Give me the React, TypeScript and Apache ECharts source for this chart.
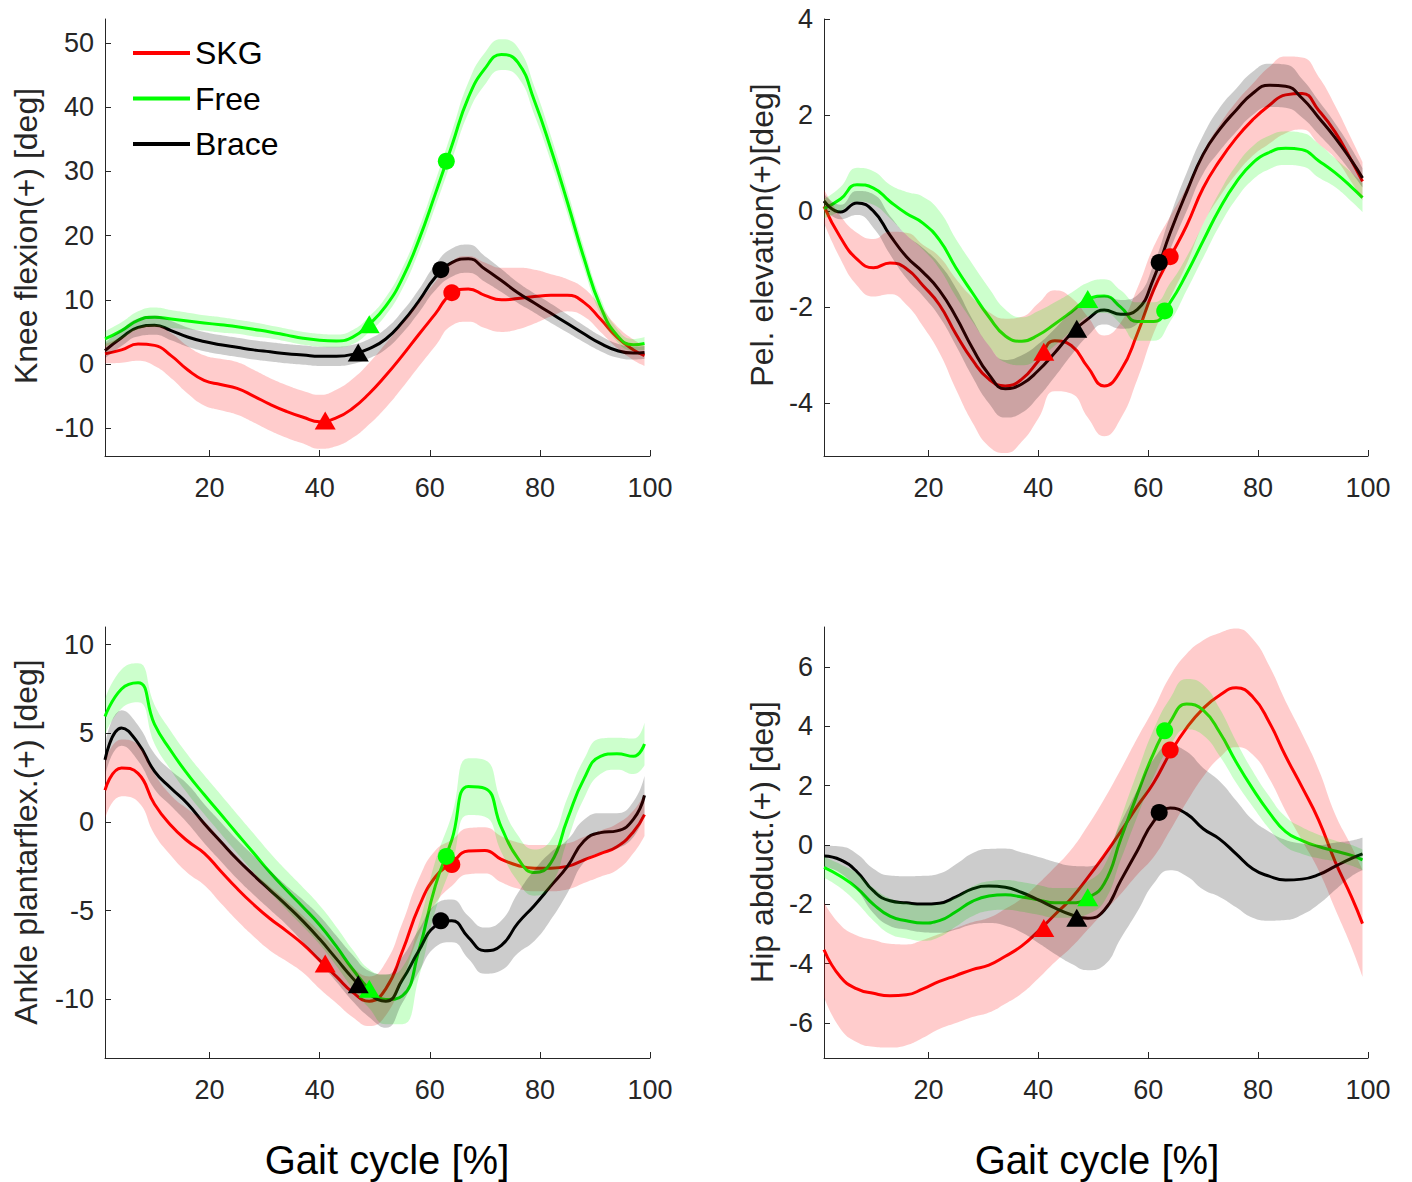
import React, { useEffect, useRef } from 'react';
import * as echarts from 'echarts';

// ---------- data (gait cycle %, common sampling) ----------
const X = [1, 4, 7, 10, 13, 16, 19, 22, 25, 28, 31, 34, 37, 40, 43, 46, 49, 52, 55, 58, 61, 64, 67, 70, 73, 76, 79, 82, 85, 88, 91, 94, 97, 99];

const GROUPS = ['SKG', 'Free', 'Brace'];

// Knee flexion
const KNEE_SKG = [1.6, 2.2, 3.1, 2.9, 1.3, -0.9, -2.55, -3.2, -3.8, -5.0, -6.3, -7.4, -8.3, -9.0, -8.4, -6.9, -4.6, -1.8, 1.3, 4.6, 7.8, 11.0, 11.7, 10.7, 10.0, 10.2, 10.5, 10.7, 10.7, 9.6, 7.0, 4.2, 2.2, 1.3];
const KNEE_SKG_SD = [1.5, 2.0, 2.6, 3.2, 3.5, 3.7, 3.9, 4.0, 4.1, 4.1, 4.1, 4.1, 4.1, 4.2, 4.4, 4.6, 4.8, 5.0, 5.0, 5.0, 5.0, 5.0, 5.1, 5.1, 5.0, 4.8, 4.2, 3.3, 2.5, 2.2, 2.0, 1.7, 1.6, 1.6];
const KNEE_FREE = [3.9, 5.2, 6.8, 7.3, 7.0, 6.7, 6.4, 6.1, 5.8, 5.4, 5.0, 4.5, 4.0, 3.7, 3.6, 4.2, 6.2, 9.0, 13.3, 19.3, 26.5, 34.0, 41.5, 46.0, 48.2, 47.0, 41.0, 33.5, 25.2, 16.5, 9.0, 4.5, 3.0, 3.2];
const KNEE_FREE_SD = [1.2, 1.3, 1.4, 1.5, 1.4, 1.3, 1.2, 1.2, 1.1, 1.1, 1.0, 1.0, 1.0, 1.0, 1.0, 1.1, 1.2, 1.4, 1.6, 1.8, 2.0, 2.2, 2.4, 2.5, 2.4, 2.3, 2.2, 2.0, 1.8, 1.6, 1.3, 1.0, 0.9, 1.0];
const KNEE_BRACE = [2.1, 4.1, 5.7, 6.05, 5.2, 4.2, 3.5, 3.0, 2.6, 2.2, 1.9, 1.6, 1.4, 1.2, 1.2, 1.5, 2.4, 3.9, 6.5, 9.8, 13.5, 15.8, 16.4, 14.8, 13.0, 11.1, 9.5, 7.9, 6.3, 4.7, 3.2, 2.1, 1.7, 1.8];
const KNEE_BRACE_SD = [1.2, 1.3, 1.4, 1.5, 1.5, 1.5, 1.5, 1.5, 1.5, 1.5, 1.5, 1.5, 1.5, 1.5, 1.5, 1.5, 1.5, 1.6, 1.7, 1.8, 2.0, 2.2, 2.2, 2.0, 1.8, 1.6, 1.5, 1.5, 1.4, 1.3, 1.2, 1.1, 1.0, 1.0];

// Pelvic elevation
const PEL_SKG = [0.1, -0.55, -1.0, -1.18, -1.08, -1.2, -1.55, -1.95, -2.56, -3.1, -3.5, -3.64, -3.5, -3.12, -2.7, -2.8, -3.25, -3.64, -3.32, -2.56, -1.64, -0.96, -0.3, 0.48, 1.05, 1.52, 1.9, 2.2, 2.42, 2.45, 2.1, 1.65, 1.05, 0.62];
const PEL_SKG_SD = [0.35, 0.45, 0.55, 0.6, 0.65, 0.75, 0.85, 1.0, 1.15, 1.3, 1.4, 1.4, 1.3, 1.2, 1.05, 1.0, 1.05, 1.05, 1.0, 0.95, 0.9, 0.85, 0.8, 0.75, 0.75, 0.75, 0.75, 0.8, 0.8, 0.75, 0.7, 0.55, 0.45, 0.4];
const PEL_FREE = [0.05, 0.25, 0.55, 0.48, 0.2, -0.05, -0.25, -0.6, -1.18, -1.7, -2.2, -2.6, -2.71, -2.58, -2.35, -2.1, -1.84, -1.77, -2.0, -2.3, -2.3, -1.9, -1.3, -0.62, 0.05, 0.6, 1.0, 1.22, 1.31, 1.28, 1.05, 0.8, 0.5, 0.28];
const PEL_FREE_SD = [0.2, 0.25, 0.35, 0.35, 0.35, 0.45, 0.55, 0.6, 0.6, 0.6, 0.6, 0.55, 0.5, 0.5, 0.45, 0.4, 0.35, 0.35, 0.35, 0.4, 0.4, 0.4, 0.35, 0.35, 0.35, 0.35, 0.35, 0.35, 0.35, 0.35, 0.35, 0.3, 0.3, 0.3];
const PEL_BRACE = [0.21, -0.02, 0.17, 0.0, -0.5, -0.95, -1.27, -1.65, -2.2, -2.85, -3.4, -3.7, -3.6, -3.32, -2.95, -2.55, -2.25, -2.06, -2.15, -2.05, -1.4, -0.45, 0.4, 1.18, 1.7, 2.1, 2.45, 2.62, 2.6, 2.35, 1.95, 1.53, 1.05, 0.69];
const PEL_BRACE_SD = [0.15, 0.15, 0.25, 0.35, 0.4, 0.45, 0.5, 0.55, 0.6, 0.6, 0.6, 0.6, 0.6, 0.55, 0.5, 0.45, 0.35, 0.3, 0.3, 0.3, 0.3, 0.35, 0.4, 0.4, 0.45, 0.45, 0.45, 0.45, 0.45, 0.4, 0.35, 0.3, 0.25, 0.2];

// Ankle plantarflexion
const ANK_SKG = [1.8, 3.05, 2.74, 1.0, -0.2, -1.07, -1.75, -2.76, -3.75, -4.65, -5.45, -6.15, -6.9, -7.8, -8.7, -9.6, -10.1, -9.4, -7.3, -4.8, -3.1, -2.3, -1.64, -1.6, -2.1, -2.45, -2.6, -2.6, -2.5, -2.14, -1.78, -1.4, -0.55, 0.41];
const ANK_SKG_SD = [1.6, 1.6, 1.6, 1.7, 1.7, 1.8, 1.8, 1.8, 1.8, 1.8, 1.8, 1.7, 1.6, 1.6, 1.5, 1.4, 1.4, 1.5, 1.6, 1.6, 1.5, 1.3, 1.3, 1.3, 1.3, 1.3, 1.3, 1.3, 1.3, 1.3, 1.3, 1.3, 1.2, 1.2];
const ANK_FREE = [5.94, 7.5, 7.85, 5.5, 4.0, 2.7, 1.55, 0.45, -0.66, -1.75, -2.85, -3.85, -4.8, -5.8, -7.0, -8.3, -9.4, -10.0, -9.8, -7.26, -3.6, -1.0, 2.0, 1.9, -0.3, -2.05, -2.85, -2.3, 0.16, 2.43, 3.7, 3.85, 3.7, 4.4];
const ANK_FREE_SD = [1.0, 1.1, 1.1, 1.1, 1.1, 1.1, 1.1, 1.1, 1.1, 1.1, 1.1, 1.1, 1.1, 1.1, 1.1, 1.1, 1.1, 1.4, 1.6, 1.5, 1.4, 1.4, 1.6, 1.6, 1.4, 1.3, 1.3, 1.3, 1.2, 1.1, 1.0, 0.9, 1.0, 1.2];
const ANK_BRACE = [3.5, 5.3, 4.45, 2.85, 1.9, 1.03, -0.08, -1.1, -2.1, -3.0, -3.85, -4.7, -5.6, -6.6, -7.7, -8.8, -9.7, -10.1, -8.9, -7.26, -5.85, -5.57, -6.5, -7.25, -6.95, -5.7, -4.7, -3.6, -2.5, -1.07, -0.6, -0.5, 0.16, 1.5];
const ANK_BRACE_SD = [0.9, 1.0, 1.0, 1.0, 1.0, 1.1, 1.1, 1.1, 1.1, 1.1, 1.1, 1.1, 1.2, 1.3, 1.3, 1.3, 1.3, 1.5, 1.3, 1.2, 1.2, 1.2, 1.2, 1.3, 1.4, 1.7, 2.0, 1.9, 1.5, 1.2, 1.1, 1.0, 1.0, 1.1];

// Hip abduction
const HIP_SKG = [-3.53, -4.45, -4.85, -5.0, -5.08, -5.05, -4.85, -4.6, -4.4, -4.2, -4.05, -3.75, -3.4, -2.9, -2.35, -1.8, -1.1, -0.35, 0.45, 1.3, 2.1, 3.1, 3.95, 4.6, 5.05, 5.3, 5.0, 4.15, 3.0, 1.95, 0.85, -0.55, -1.75, -2.65];
const HIP_SKG_SD = [1.6, 1.75, 1.8, 1.8, 1.75, 1.7, 1.65, 1.6, 1.6, 1.6, 1.6, 1.6, 1.6, 1.6, 1.6, 1.65, 1.75, 1.9, 2.1, 2.3, 2.5, 2.6, 2.5, 2.3, 2.1, 2.0, 1.95, 1.9, 1.85, 1.8, 1.7, 1.6, 1.7, 1.8];
const HIP_FREE = [-0.75, -1.05, -1.45, -2.0, -2.4, -2.55, -2.63, -2.55, -2.25, -1.9, -1.72, -1.68, -1.75, -1.85, -1.95, -1.95, -1.78, -1.3, 0.2, 1.7, 3.1, 4.15, 4.75, 4.55, 3.8, 2.8, 1.9, 1.1, 0.45, 0.15, -0.05, -0.2, -0.35, -0.5];
const HIP_FREE_SD = [0.35, 0.4, 0.5, 0.55, 0.6, 0.6, 0.6, 0.55, 0.5, 0.5, 0.5, 0.5, 0.5, 0.5, 0.5, 0.5, 0.55, 0.6, 0.7, 0.75, 0.8, 0.8, 0.85, 0.85, 0.8, 0.7, 0.6, 0.55, 0.5, 0.45, 0.4, 0.35, 0.35, 0.35];
const HIP_BRACE = [-0.37, -0.5, -0.9, -1.55, -1.88, -1.95, -1.99, -1.96, -1.75, -1.48, -1.38, -1.42, -1.6, -1.85, -2.12, -2.35, -2.47, -2.2, -1.2, -0.2, 0.8, 1.25, 1.05, 0.55, 0.2, -0.3, -0.8, -1.05, -1.18, -1.15, -1.0, -0.72, -0.45, -0.3];
const HIP_BRACE_SD = [0.35, 0.45, 0.6, 0.75, 0.85, 0.9, 0.95, 1.0, 1.1, 1.2, 1.25, 1.3, 1.35, 1.45, 1.55, 1.65, 1.75, 1.85, 1.95, 2.05, 2.1, 2.1, 2.1, 2.05, 1.95, 1.8, 1.65, 1.5, 1.35, 1.2, 1.0, 0.8, 0.6, 0.55];

// Event markers (order: SKG, Free, Brace)
const TRI_X = [41, 49, 47];
const CIRC_X = [64, 63, 62];
const KNEE_TRI_Y = [-8.8, 6.2, 1.8];
const KNEE_CIRC_Y = [11.1, 31.6, 14.7];
const PEL_TRI_Y = [-2.93, -1.83, -2.45];
const PEL_CIRC_Y = [-0.95, -2.08, -1.07];
const ANK_TRI_Y = [-7.98, -9.4, -9.15];
const ANK_CIRC_Y = [-2.4, -1.94, -5.57];
const HIP_TRI_Y = [-2.8, -1.76, -2.45];
const HIP_CIRC_Y = [3.2, 3.85, 1.1];

// Axis ticks
const X_TICKS = [20, 40, 60, 80, 100];
const KNEE_TICKS = [-10, 0, 10, 20, 30, 40, 50];
const PEL_TICKS = [-4, -2, 0, 2, 4];
const ANK_TICKS = [-10, -5, 0, 5, 10];
const HIP_TICKS = [-6, -4, -2, 0, 2, 4, 6];

const Y_LABELS = ['Knee flexion(+) [deg]', 'Pel. elevation(+)[deg]', 'Ankle plantarflex.(+) [deg]', 'Hip abduct.(+) [deg]'];
const X_LABEL = 'Gait cycle [%]';

// ---------- styling ----------
const FONT = "'Liberation Sans', Arial, Helvetica, sans-serif";
const AXIS_COLOR = '#262626';
const LINE_COLORS = ['#ff0000', '#00ff00', '#000000'];
const BAND_COLORS = ['rgba(255,0,0,0.2)', 'rgba(0,255,0,0.2)', 'rgba(0,0,0,0.2)'];

const PANELS = [
  { mean: [KNEE_SKG, KNEE_FREE, KNEE_BRACE], sd: [KNEE_SKG_SD, KNEE_FREE_SD, KNEE_BRACE_SD], tri: KNEE_TRI_Y, circ: KNEE_CIRC_Y, ticks: KNEE_TICKS, yMin: -14.33, yMax: 53.74, grid: { left: 105, top: 19, width: 545, height: 437 }, labelPos: [26, 236] },
  { mean: [PEL_SKG, PEL_FREE, PEL_BRACE], sd: [PEL_SKG_SD, PEL_FREE_SD, PEL_BRACE_SD], tri: PEL_TRI_Y, circ: PEL_CIRC_Y, ticks: PEL_TICKS, yMin: -5.1, yMax: 4.0, grid: { left: 824, top: 19, width: 544, height: 437 }, labelPos: [762, 235] },
  { mean: [ANK_SKG, ANK_FREE, ANK_BRACE], sd: [ANK_SKG_SD, ANK_FREE_SD, ANK_BRACE_SD], tri: ANK_TRI_Y, circ: ANK_CIRC_Y, ticks: ANK_TICKS, yMin: -13.3, yMax: 10.99, grid: { left: 105, top: 627, width: 545, height: 431 }, labelPos: [26, 842] },
  { mean: [HIP_SKG, HIP_FREE, HIP_BRACE], sd: [HIP_SKG_SD, HIP_FREE_SD, HIP_BRACE_SD], tri: HIP_TRI_Y, circ: HIP_CIRC_Y, ticks: HIP_TICKS, yMin: -7.18, yMax: 7.35, grid: { left: 824, top: 627, width: 544, height: 431 }, labelPos: [762, 842] },
];

// Same smoothing rule as ECharts' smoothed line, sampled into points
function smoothSample(pts: number[][], smooth = 0.5, steps = 10): number[][] {
  const out: number[][] = [[pts[0][0], pts[0][1]]];
  let prevX = pts[0][0];
  let prevY = pts[0][1];
  let cpx0 = prevX;
  let cpy0 = prevY;
  for (let k = 1; k < pts.length; k++) {
    const x = pts[k][0];
    const y = pts[k][1];
    let cpx1 = x, cpy1 = y, nextCpx0 = x, nextCpy0 = y;
    if (k + 1 < pts.length) {
      const nextX = pts[k + 1][0];
      const nextY = pts[k + 1][1];
      let vx = nextX - prevX;
      let vy = nextY - prevY;
      const dx0 = x - prevX, dy0 = y - prevY, dx1 = nextX - x, dy1 = nextY - y;
      const lenPrev = Math.sqrt(dx0 * dx0 + dy0 * dy0) || 1e-6;
      const lenNext = Math.sqrt(dx1 * dx1 + dy1 * dy1) || 1e-6;
      const ratio = lenNext / (lenNext + lenPrev);
      nextCpx0 = x + vx * smooth * ratio;
      nextCpy0 = y + vy * smooth * ratio;
      nextCpx0 = Math.min(nextCpx0, Math.max(nextX, x));
      nextCpy0 = Math.min(nextCpy0, Math.max(nextY, y));
      nextCpx0 = Math.max(nextCpx0, Math.min(nextX, x));
      nextCpy0 = Math.max(nextCpy0, Math.min(nextY, y));
      vx = nextCpx0 - x;
      vy = nextCpy0 - y;
      cpx1 = x - vx * lenPrev / lenNext;
      cpy1 = y - vy * lenPrev / lenNext;
      cpx1 = Math.min(cpx1, Math.max(prevX, x));
      cpy1 = Math.min(cpy1, Math.max(prevY, y));
      cpx1 = Math.max(cpx1, Math.min(prevX, x));
      cpy1 = Math.max(cpy1, Math.min(prevY, y));
      vx = x - cpx1;
      vy = y - cpy1;
      nextCpx0 = x + vx * lenNext / lenPrev;
      nextCpy0 = y + vy * lenNext / lenPrev;
    }
    for (let s = 1; s <= steps; s++) {
      const t = s / steps;
      const u = 1 - t;
      out.push([
        u * u * u * prevX + 3 * u * u * t * cpx0 + 3 * u * t * t * cpx1 + t * t * t * x,
        u * u * u * prevY + 3 * u * u * t * cpy0 + 3 * u * t * t * cpy1 + t * t * t * y,
      ]);
    }
    cpx0 = nextCpx0;
    cpy0 = nextCpy0;
    prevX = x;
    prevY = y;
  }
  return out;
}

function buildOption() {
  const grid: any[] = [];
  const xAxis: any[] = [];
  const yAxis: any[] = [];
  const series: any[] = [];
  const graphic: any[] = [];

  PANELS.forEach((p, pi) => {
    grid.push({ ...p.grid, containLabel: false, outerBoundsMode: 'none' });
    xAxis.push({
      type: 'value', gridIndex: pi, min: 1, max: 100,
      axisLine: { show: true, onZero: false, lineStyle: { color: AXIS_COLOR, width: 1 } },
      axisTick: { show: true, inside: true, length: 6, customValues: X_TICKS, lineStyle: { color: AXIS_COLOR, width: 1 } },
      axisLabel: { show: true, customValues: X_TICKS, fontSize: 27, fontFamily: FONT, color: AXIS_COLOR, margin: 18 },
      splitLine: { show: false },
    });
    yAxis.push({
      type: 'value', gridIndex: pi, min: p.yMin, max: p.yMax,
      axisLine: { show: true, onZero: false, lineStyle: { color: AXIS_COLOR, width: 1 } },
      axisTick: { show: true, inside: true, length: 6, customValues: p.ticks, lineStyle: { color: AXIS_COLOR, width: 1 } },
      axisLabel: { show: true, customValues: p.ticks, fontSize: 27, fontFamily: FONT, color: AXIS_COLOR, margin: 11 },
      splitLine: { show: false },
    });

    // mean lines
    GROUPS.forEach((g, gi) => {
      const mean = p.mean[gi];
      series.push({
        type: 'line', name: g, xAxisIndex: pi, yAxisIndex: pi,
        data: X.map((x, i) => [x, mean[i]]),
        smooth: true, symbol: 'none', showSymbol: false, silent: true,
        lineStyle: { color: LINE_COLORS[gi], width: 3 },
        itemStyle: { color: LINE_COLORS[gi] },
        z: 2,
      });
    });

    // shaded mean ± SD bands (drawn over lines, like the transparent patches)
    GROUPS.forEach((g, gi) => {
      const mean = p.mean[gi];
      const sd = p.sd[gi];
      series.push({
        type: 'custom', name: g + ' SD', xAxisIndex: pi, yAxisIndex: pi,
        data: [[X[0], mean[0]]], silent: true, z: 3,
        renderItem: (params: any, api: any) => {
          if (params.dataIndex !== 0) return null;
          const upper = X.map((x, i) => api.coord([x, mean[i] + sd[i]]));
          const lower = X.map((x, i) => api.coord([x, mean[i] - sd[i]]));
          const up = smoothSample(upper);
          const lo = smoothSample(lower).reverse();
          return {
            type: 'polygon', silent: true,
            shape: { points: up.concat(lo) },
            style: { fill: BAND_COLORS[gi], stroke: null },
          };
        },
      });
    });

    // event markers
    GROUPS.forEach((g, gi) => {
      series.push({
        type: 'scatter', name: g, xAxisIndex: pi, yAxisIndex: pi, silent: true, z: 4,
        data: [[TRI_X[gi], p.tri[gi]]], symbol: 'triangle', symbolSize: [21, 18],
        itemStyle: { color: LINE_COLORS[gi], opacity: 1 },
      });
      series.push({
        type: 'scatter', name: g, xAxisIndex: pi, yAxisIndex: pi, silent: true, z: 4,
        data: [[CIRC_X[gi], p.circ[gi]]], symbol: 'circle', symbolSize: 17,
        itemStyle: { color: LINE_COLORS[gi], opacity: 1 },
      });
    });

    graphic.push({
      type: 'text', x: p.labelPos[0], y: p.labelPos[1], rotation: Math.PI / 2, silent: true,
      style: {
        text: Y_LABELS[pi], fill: AXIS_COLOR, fontSize: 32, fontFamily: FONT,
        align: 'center', verticalAlign: 'middle', textAlign: 'center', textVerticalAlign: 'middle',
      },
    });
  });

  [[387, 1160], [1097, 1160]].forEach(([x, y]) => {
    graphic.push({
      type: 'text', x, y, silent: true,
      style: {
        text: X_LABEL, fill: '#000000', fontSize: 40, fontFamily: FONT,
        align: 'center', verticalAlign: 'middle', textAlign: 'center', textVerticalAlign: 'middle',
      },
    });
  });

  return {
    animation: false,
    backgroundColor: '#ffffff',
    legend: {
      show: true, data: GROUPS, orient: 'vertical', left: 133, top: 37, padding: 0,
      itemWidth: 57, itemHeight: 4, itemGap: 13.5, icon: 'rect', selectedMode: false,
      textStyle: { fontSize: 32, color: '#000000', fontFamily: FONT },
    },
    grid, xAxis, yAxis, series, graphic,
  };
}

export default function App() {
  const ref = useRef<HTMLDivElement>(null);
  useEffect(() => {
    if (!ref.current) return;
    const chart = echarts.init(ref.current, undefined, { renderer: 'svg' });
    chart.setOption(buildOption() as any);
    return () => chart.dispose();
  }, []);
  return <div ref={ref} style={{ position: 'absolute', left: 0, top: 0, width: 1412, height: 1182 }} />;
}
